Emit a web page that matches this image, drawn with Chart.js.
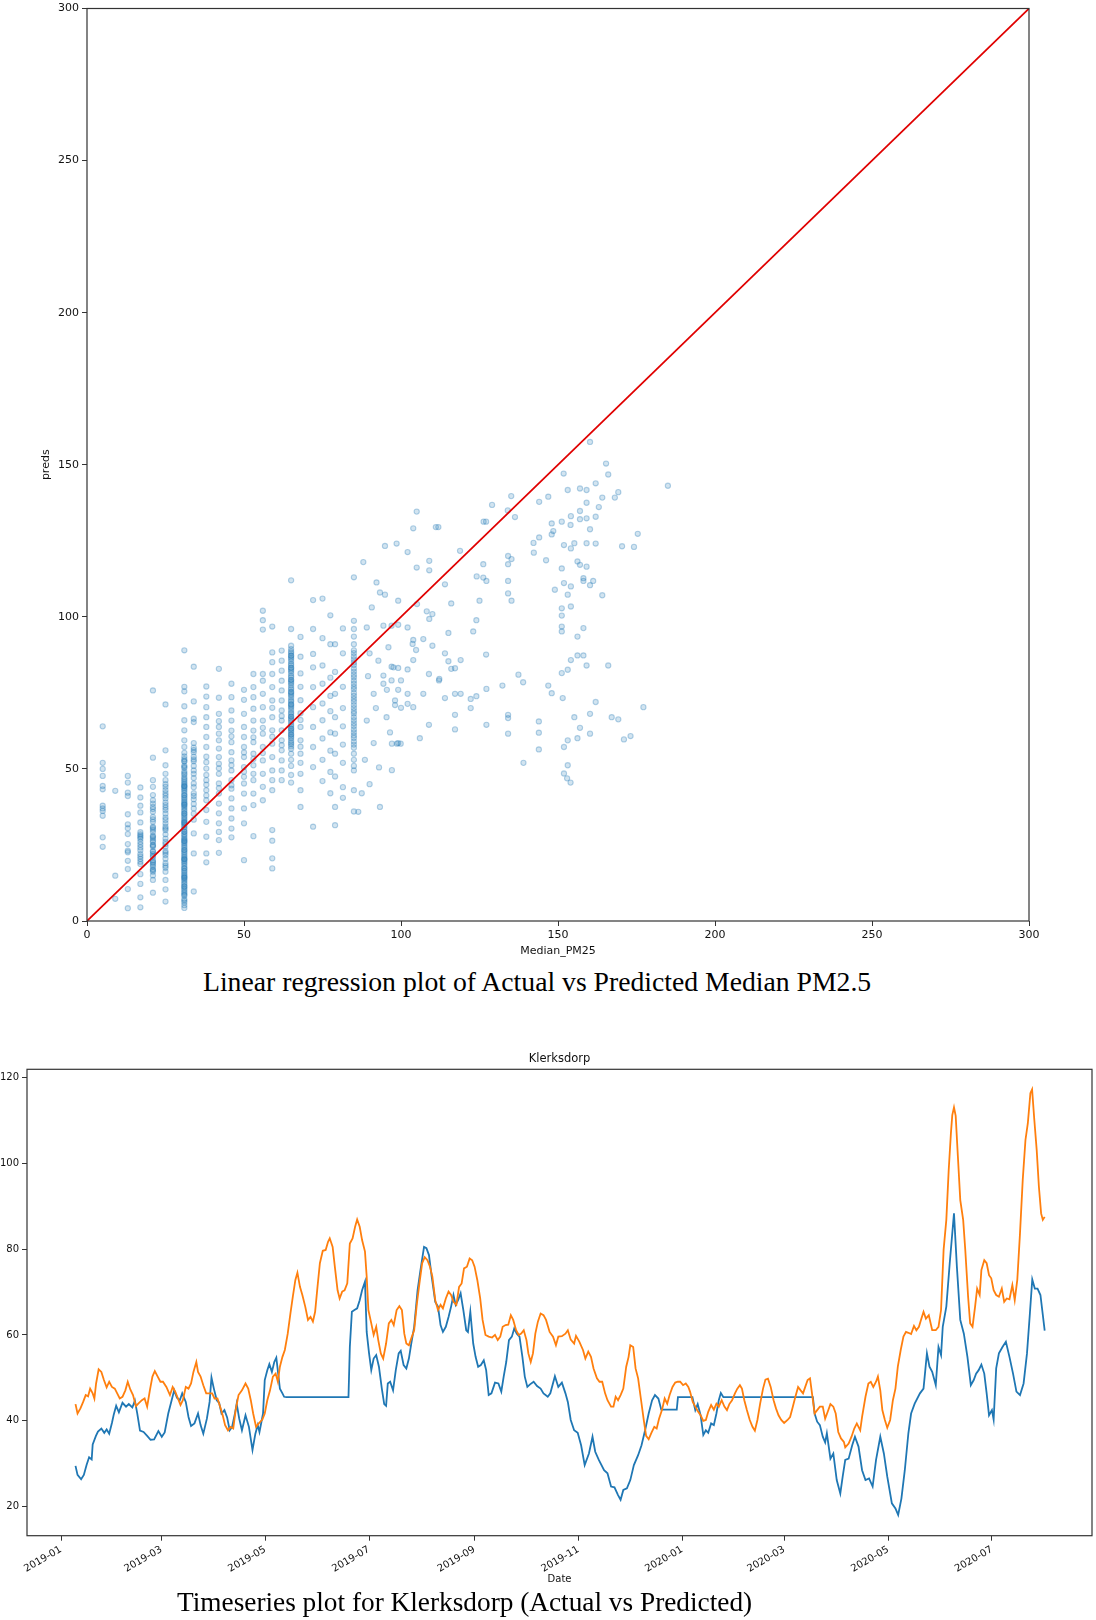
<!DOCTYPE html>
<html><head><meta charset="utf-8">
<script src="https://cdn.jsdelivr.net/npm/chart.js@4.4.1/dist/chart.umd.min.js"></script>
<style>
html,body{margin:0;padding:0;background:#fff;}
body{width:1096px;height:1620px;position:relative;overflow:hidden;}
canvas{position:absolute;left:0;}
.cap{position:absolute;font-family:"Liberation Serif","Times New Roman",serif;color:#000;white-space:nowrap;line-height:1;}
</style></head><body>
<canvas id="scatterChart" width="1096" height="965" style="top:0;width:1096px;height:965px"></canvas>
<div class="cap" style="left:203px;top:968px;font-size:27.7px">Linear regression plot of Actual vs Predicted Median PM2.5</div>
<canvas id="tsChart" width="1096" height="620" style="top:1000px;width:1096px;height:620px"></canvas>
<div class="cap" style="left:177px;top:1589px;font-size:27.3px">Timeseries plot for Klerksdorp (Actual vs Predicted)</div>
<script>
// ---------- Top chart data: Median_PM25 (actual) vs preds ----------
const scatterTicks = [0, 50, 100, 150, 200, 250, 300];
const actualColumns = [5, 9, 13, 17, 21, 25, 31, 34, 38, 42, 46, 50, 53, 56, 59, 62, 65, 68, 72, 75, 77.5, 79, 81.5, 85];
const predsByColumn = [
  [64, 52, 50, 47.7, 44.4, 43.3, 37.9, 37, 36.2, 34.6, 27.5, 24.4],
  [42.8, 14.9, 7.3],
  [47.7, 45.5, 42.2, 41.1, 35.1, 31.8, 28.6, 25.3, 23.1, 22.6, 17.1, 10.5, 4.2, 30.5, 19.8],
  [43.9, 40.6, 37.9, 35.7, 32.4, 28.5, 28, 27.5, 27, 26, 24.2, 22, 20.4, 18.7, 15.4, 12.2, 7.8, 4.5, 29.2, 25.1, 23.3, 21.2, 19.5],
  [75.8, 53.7, 46.3, 44.1, 41.4, 39.7, 37.5, 35.9, 34.2, 32.6, 31, 30, 29.3, 28, 27.7, 26.5, 26, 25, 24.4, 23, 22.8, 21.5, 21.1, 20, 19.5, 18.5, 17.9, 17, 16.2, 15, 13.5, 9.3,
   38.6, 36.8, 33.4, 30.6, 27.2, 24.8, 22.1, 19.1, 16.7],
  [71.2, 56.1, 51.2, 48.4, 46.3, 45, 43, 42, 40.3, 39, 38.1, 36.5, 35.3, 34, 32.1, 31, 29.9, 28.5, 27.1, 26, 24.4, 23, 21.7, 20.5, 19, 17.5, 16.2, 13.5, 10.4, 6.4,
   44.1, 41.2, 37.3, 33.2, 30.4, 25.3, 22.4, 18.2],
  [89, 77, 75.5, 70.6, 66, 62.7, 59.4, 57.2, 55.3, 54.1, 53.2, 52.4, 51.1, 50.3, 49.2, 48.1, 47.3, 46.2, 45.1, 44.3, 43.2, 42.1, 41.3, 40.2, 39.1, 38.3, 37.2, 36.1, 35.3, 34.2, 33.1, 32.3, 31.2, 30.1, 29.3, 28.2, 27.1, 26.3, 25.2, 24.1, 23.3, 22.2, 21.1, 20.3, 19.2, 18.1, 17.3, 16.2, 15.1, 14.3, 13.2, 12.1, 11.3, 10.2, 9.1, 8.3, 7.2, 6.1, 5.2, 4.3,
   52.6, 50.7, 48.6, 46.7, 44.6, 42.7, 40.6, 38.7, 36.6, 34.7, 32.6, 30.7, 28.6, 26.7, 24.6, 22.7, 20.6, 18.7, 16.6, 14.7, 12.6, 10.7, 8.6, 6.7,
   44.2, 41.4, 38.2, 35.4, 32.2, 29.4, 26.2, 23.4, 20.2, 17.4, 14.2, 11.4,
   45.6, 43.7, 39.6, 37.7, 33.6, 31.7, 27.6, 25.7, 21.6, 19.7, 15.6, 13.7, 9.6],
  [83.6, 72.2, 66.5, 65.4, 58.5, 57, 55.5, 54, 52.5, 51, 49.5, 48.4, 44, 42, 40, 38.5, 37, 35.3, 28.8, 22.2, 9.7, 56.2, 53.1, 47, 45.2, 41.1, 33.3],
  [77.1, 73.8, 70.3, 67, 63.8, 60.5, 57.2, 54, 50.1, 48, 46.3, 43, 39.7, 36.5, 32.6, 27.7, 22.2, 19.3, 52.2, 44.8, 41.3],
  [82.9, 73.4, 68.1, 65.7, 63.8, 59.4, 56.7, 53.9, 51.7, 48.4, 45.2, 41.9, 38.6, 35.4, 32.1, 29.3, 26.6, 22.4, 61.6, 50.2, 43.7],
  [78, 73.6, 69.2, 65.9, 62.6, 58.8, 55.5, 52.8, 49.5, 46.3, 43.5, 40.3, 37, 33.7, 30.4, 27.5, 60.7, 51.2, 44.6],
  [76, 72.7, 68.1, 63.8, 60.5, 57.2, 53.9, 50.6, 47.4, 45.2, 41.9, 37, 32.1, 20, 55.4, 49.1],
  [81.2, 76.9, 73.6, 69.8, 65.9, 62.6, 58.8, 55, 51.2, 48.4, 46.3, 41.9, 38.1, 27.9, 60.4, 53.3],
  [102, 98.9, 95.8, 81.2, 79, 74.7, 70.3, 65.9, 61.6, 57.2, 52.8, 48.4, 44.1, 39.7, 63.5, 55.2],
  [96.8, 88.3, 85.1, 81.2, 76.9, 72.5, 67, 62.7, 58.3, 53.9, 49.5, 46.3, 43, 29.9, 26.4, 20.6, 17.3, 70.1, 60.6],
  [88.9, 85.6, 82.3, 79, 75.8, 72.5, 69.2, 65.9, 62.7, 59.4, 56.1, 52.8, 49.5, 46.3, 67.4, 57.8],
  [112, 96, 90.5, 89.4, 88.6, 87.3, 86.6, 85.4, 84.6, 83.3, 82.6, 81.4, 80.6, 79.3, 78.6, 77.4, 76.6, 75.3, 74.6, 73.4, 72.6, 71.3, 70.6, 69.4, 68.6, 67.3, 66.6, 65.4, 64.6, 63.3, 62.6, 61.4, 60.6, 59.3, 58.6, 57.4, 56.6, 55, 53, 51, 48, 45.5,
   88.1, 86.1, 84.1, 82.1, 80.1, 78.1, 76.1, 74.1, 72.1, 70.1, 68.1, 66.1, 64.1, 62.1, 60.1, 58.1,
   87.2, 83.2, 79.2, 75.2, 71.2, 67.2, 63.2, 61.2],
  [93.4, 86.9, 81.4, 77, 72.6, 68.3, 63.8, 59.4, 55, 52, 48.4, 43, 37.5, 66.1, 57.3],
  [105.5, 96, 87.8, 83.4, 76.9, 70.3, 63.8, 57.2, 50.6, 31],
  [106, 93, 84, 78, 71.5, 66, 60, 53, 46],
  [100.5, 91, 80, 74, 69, 62, 56, 49, 42],
  [91, 81.9, 74.7, 67, 61.6, 55, 47.5, 37.5, 31.5],
  [96.2, 88, 77, 70, 64, 58, 52, 44, 40.5],
  [113, 98.7, 96, 93.5, 91, 89, 87, 85, 83, 81, 79, 77, 75, 73, 71, 69, 67, 65, 63, 61, 59, 57, 55, 53, 51, 49.5, 43, 36,
   86, 82, 78, 74, 70, 66, 62, 58, 88.1, 84.2, 80.1, 76.2, 72.1, 68.2, 64.1, 60.2]
];
const actualScatter = [92.2,93.3,90.7,94.4,89.1,92.8,97.6,94.4,89.5,91.3,98.1,95.4,89.1,98.7,91.3,88.5,93,86.4,93.3,88,96,90,95.5,92,96.5,90,87.5,
 160.2,165.3,166,185,151.8,153.1,157,159.1,162,169.2,168.1,164.1,163,159.1,157,154.1,157,159.1,162,151.2,148,154,148.5,148,160.2,175.4,170.4,174.2,162,159.1,155.2,154.1,151.9,142.2,144,146.9,144,135.1,136.3,134,129,127.1,126.3,118.8,114,105,103.9,111.9,111.1,94.9,98.6,102.1,109,109,105,99.1,105.1,108.2,109,110,116,125,124,123,134.1,134.1,135.2,126.2,124.1,126.2,127.2,134.1,134.1,135.2,142.3,146.2,149,151.9,154.1,153.1,154.1,151.2,156.2,157,159.1,158.1,158.1,160.2,161.2,164.1,151.2,151.2,151.2,151.2,158.1,156.2,154.1,153.1,151.2,156.2,158.1,159.1,166,162,160.2,155.2,157,160.2,156.2,153.1,151.9,153.1,151.9,152.9,154,167.1,169.2,171,173.1,177.2,143.9,143.9,143.9,139,146.9,148,151.5,134.1,134.1,134.1,138.9,137.4,132.3,127.2,127.2,124,122.2,122.2,117.2,117.2,119,117.2,119,117.2,114,112.1,108.9,108.9,106,99.9,99.1,97.1,97.1,103.9,102.1,100,98.1,107.1,102.1,99.1,97,94.4,100,103.9,103.9,103.7,104.8,107.1,110,115.1,114,115.1,116,112.2,102.1,99.1,97,94.9,127.1,97,99.1,102.1];
const predsScatter = [111.3,108,103.1,97.1,96.5,85.6,83.4,80.7,80.5,74.7,72.5,67,65.9,58.3,58.5,53,50.5,35.9,37.5,118,90,88,76,70,62,45,42,
 157.5,150.4,146.8,143.1,147.1,141.7,142.2,141.7,143.9,141,139.2,139.2,136.1,137.5,134.8,133.1,132.1,132.4,132.9,131.3,130.7,130.2,128.2,127.1,128.8,127.3,123.2,123,124.1,124.2,124.2,122.5,123.6,124.3,126.1,139.5,137.8,139.7,132.8,135,136.8,131.3,131.3,121.7,110.7,134.6,129.1,129.5,129.5,123.3,124.1,121.3,118.4,115.3,116.2,105.3,104.2,101.8,99.3,100.9,104.4,105.3,98.9,95.2,120,117.3,119,117.3,113.3,112.9,111.8,111.8,107.7,105.3,121.1,118.6,108.9,111.1,110,107.3,103.4,115.9,118.2,117.1,116.5,112.7,111.8,110.4,111.8,107.1,102.8,100.4,96.8,95.2,96.3,93.5,85.8,82.6,81.5,87.3,87.3,84,84,72,68.1,67,63.5,61.6,60.1,59.4,57.2,51.2,48.5,46.9,45.5,67,66.3,59.7,60.8,70.3,65.6,61.9,56.4,52,77.4,74.9,73.3,67.8,66.7,61.6,78.5,81,77.4,76.3,64.5,73.9,73,70,67.8,63,85.8,83.1,74.7,74.7,73.3,79.1,81.2,64.5,60.1,58.3,58.5,58.3,49.6,70.3,71.4,70.1,71,74.7,74.7,76,79.1,78,79.1,85.8,92.4,91.1,89.1,92.7,90.5,94.7,88,85.4,82.9,79.6,96.5,97.4,97.1,107.3,87.6,83.6,83.2,82.7];
const identityLine = [0, 300];

// ---------- Bottom chart data: Klerksdorp timeseries (days since 2019-01-01) ----------
const monthTickDays = [0, 59, 120, 181, 243, 304, 365, 425, 486, 547];
const monthTickLabels = ['2019-01','2019-03','2019-05','2019-07','2019-09','2019-11','2020-01','2020-03','2020-05','2020-07'];
const tsYTicks = [20, 40, 60, 80, 100, 120];
const actualDays = [8.5,9.7,11.8,13.4,15,16.5,18,18.6,20.5,21.7,23.7,25.4,26.8,28.3,29.9,31,32.4,34,36.1,38.2,39.8,41.9,43.4,44.8,46.4,48.5,50.6,52.6,54.7,57.2,59.2,60.9,63,65,66.5,68.1,69.8,71.2,73.3,74.9,76.4,78.4,80.5,82,83.6,85.7,87.3,88.4,89.8,91.5,92.9,94.3,96,97.6,99.1,100.5,102.2,103.2,104.7,106.3,108.4,110.4,112.5,114.2,115.6,116.6,118.7,119.7,121.2,122.4,123.9,125.3,126.5,127.6,128.6,130.1,131.1,132.5,168.9,169.7,170.9,172.4,174,175.5,176.9,178.6,179.6,181,182.3,183.7,185.2,186.8,188.5,189.9,191,192,193.4,195.1,196.7,198.4,199.6,201.3,202.9,204.4,205.8,207.5,209.5,211.2,213.3,214.7,216.2,217.8,219.9,221.5,223,224.4,226.1,227.7,229.2,230.6,231.9,233.3,234.8,236.4,238.1,239.1,240.5,242.2,243.6,245.1,246.7,248.4,249.8,251.3,252.9,255,257,258.7,260.1,261.6,263.2,264.9,266.3,267.8,269.4,271.1,272.5,274,275.6,277.7,279.7,281.8,283.5,286,287.5,290.2,292.2,294.3,296.4,297.8,299.5,301.5,303.6,305.6,307.7,310.2,312.3,313.9,316,319.1,321.1,323.2,325.2,327.3,328.8,330.4,332.5,334.5,336.6,339.1,341.1,343.2,345.3,347.3,349,351,352.7,361.8,362.5,371,372.7,374.1,375.8,377.4,378.9,380.3,382,383.6,385.1,386.5,387.7,389.2,441.8,442.8,444.3,445.9,447.6,449,450,452.1,453.8,455.8,457.9,459.3,460.8,462.8,464.9,466.5,468.6,470.7,472.7,474.8,476.9,478.9,481.4,483.5,485.5,488.2,490.3,491.9,493.8,495.8,497.9,499.5,501.6,504.7,506.8,508.8,510.3,511.9,514,515.6,517.1,518.1,520.2,522.2,524.7,526.4,528.4,530.5,532.6,534.6,536.3,537.7,539.2,540.8,542.5,543.9,545.3,547,548,549.5,551.1,553.2,555.2,557.3,559.4,561.4,563.5,565.6,567.6,569.3,570.7,572.2,573.8,575.5,578];
const actualValues = [29.5,27.4,26.4,27.4,29.7,31.5,31,34.5,36.5,37.5,38.2,37.2,38,37,39.5,41.5,43.5,42,44.2,43.3,43.9,43.1,44.7,41.7,37.7,37.4,36.5,35.6,35.7,37.6,36.3,37.3,41.7,44.8,47.1,45.4,44.8,46.4,44.4,40.9,38.8,39.4,41.7,39,37,40.5,44.4,50.1,47.5,44.8,44.2,41.7,42.5,40.8,37.8,38.6,41.7,44,40.5,37.8,41.3,38.6,33.2,37,39,37.4,41.7,49.5,51.8,53.2,51.4,53.7,54.7,51,47.5,46.4,45.6,45.5,45.5,57.2,65.4,65.8,66.2,68.1,70.4,72.4,60.7,55.7,51.8,54.5,55.3,52.6,47.5,43.9,43.5,48.7,49.1,47.1,51.8,55.7,56.3,53,52.2,54.5,58,61.9,70.4,75.1,80.5,80.2,78.6,73.6,67.7,66.6,62.3,60.7,61.9,64.2,66.6,69.3,67,68.1,69.7,65.8,61.1,60.7,65.4,58,54.9,52.6,53,54.1,51.8,46,46.4,48.9,48.7,46.8,50.3,53.7,58.8,59.6,61.5,60.3,59.6,54.9,50.3,47.9,48.5,49.1,48.1,47.5,46.4,45.6,46.4,50.4,47.9,48.9,46.4,44.4,40.2,37.8,37.2,34.3,29.7,32.4,36.3,32.8,30.9,28.5,27.8,24.7,24.5,22.7,21.6,23.9,24.3,26.2,29.7,32,34.3,37.8,41.7,44.8,46,45.2,42.6,42.6,45.5,45.5,42.5,43.9,41.3,36.7,37.8,37.2,39.4,39,41.7,44.8,46.5,45.5,45.5,41.7,39.8,39,36.3,35,37.1,31.2,32.4,26.2,23.1,27,30.9,31.2,34.3,36.3,34,28.5,26.2,26.6,24.7,30.9,36.3,32.4,27,20.8,19.6,18.1,21.9,28.5,37.1,41.7,44,46.4,47.5,55.7,52.6,51.4,48.3,57.2,55.3,61.9,66.6,76.7,88.3,75.9,63.5,60.3,54.9,48.3,49.5,51,51.8,53.1,51,46.4,41.3,42.5,40.3,52.2,55.7,57.2,58.4,54.9,51,46.8,46,48.7,55.7,65,72.9,70.8,70.8,69.3,61];
const predDays = [8.5,9.7,11.4,13,14.5,15.9,17.1,18.6,19.6,20.6,22.1,23.7,25.2,26.8,28.3,29.9,31.6,33,34.5,36.1,37.8,39.2,40.7,42.3,44,45.4,47.5,49.1,50.6,52.2,53.7,55.1,56.8,58.4,59.9,61.9,64,65.6,67.1,68.7,70.2,71.6,73.3,74.9,76.4,77.8,79.5,80.5,82,83.6,85.3,86.7,88.8,90.2,91.9,93.5,95,96.4,98.1,99.7,101.2,102.6,104.3,106.3,108.4,110,111.5,112.9,114.6,116.2,118.3,119.7,121.2,122.8,124.5,126.1,127.4,128.6,130.1,131.5,133.2,134.8,136.2,137.7,138.9,140.4,141.8,143.5,145.1,146.6,148,149.3,150.7,152.1,153.8,155.5,156.9,157.9,159.6,161,162.5,163.7,165.2,166.6,168.2,169.7,171.3,172.8,174,175.5,176.9,178.6,179.6,180.6,182.3,183.7,185.2,186.4,187.9,189.3,191,192.6,194.1,195.5,197.2,198.8,200.3,201.7,202.9,204.4,205.8,207.5,209.1,210.6,212.2,213.7,215.3,216.8,218.2,219.9,221.5,223,224.4,226.1,227.7,229.2,230.6,232.3,233.9,235.4,236.8,238.5,240.1,241.6,243,244.6,246.3,247.7,249.4,251.3,253.3,255,256.6,258.1,259.5,261.2,262.8,264.3,265.7,267.4,269,270.4,271.9,273.5,274.6,276,277.3,278.7,280.2,281.8,283.5,285,287.1,289.1,290.8,292.2,294.3,296.4,297.8,299.5,301.5,302.6,304.6,306.7,308.1,309.8,311.4,312.9,314.9,316.4,318,319.7,321.1,323.2,324.6,325.9,327.3,328.8,330.4,332.1,333.5,334.5,336.2,337.6,339.1,340.7,342.4,343.8,345.3,346.9,348.6,350,351.4,353.1,354.7,356.2,357.6,359.3,360.9,362.4,363.8,365.5,367.1,368.6,369.6,371.2,372.7,374.1,375.8,377.4,378.9,380.3,382,383.6,385.1,386.5,388.2,389.8,391.3,392.7,394.3,396,397.4,398.9,400.1,401.5,403,404.7,406.3,407.7,409.2,410.8,412.5,413.9,415.4,417,418.7,420.1,421.6,423.2,424.9,426.9,428.4,430,431.5,433.1,434.6,436,437.3,438.7,440.1,441.4,442.8,444.3,445.9,447.6,449,450.5,452.1,453.8,455.2,456.7,458.3,460,460.8,462.8,464.5,466.1,467.6,469.6,470.7,472.7,474.4,475.8,477.3,478.9,480,481.4,482.6,484.1,485.5,487.2,488.8,490.3,491.7,493.4,495,496.5,497.9,499.5,501.2,502.6,504.1,505.3,506.8,508.2,509.9,511.9,514,515.6,517.1,518.6,520.2,521.6,522.9,523.7,524.7,525.7,527,528.4,530.1,531.3,533,534.2,535.6,537.1,538.3,539.8,540.8,542.5,543.9,545.3,546.6,548,549.5,551.1,552.8,554.2,555.7,557.3,559,560.4,561.9,563.5,565.1,566.7,568.1,569.6,570.6,571.9,573.3,574.6,575.9,576.9,578];
const predValues = [43.9,41.7,42.9,44.4,46,45.7,47.5,46.4,45.2,48.7,52,51.4,49.5,47.8,49.1,47.9,47.5,46.4,45.2,45.6,47.1,49.1,47.3,46,43.4,44,44.8,45.2,43.3,47.1,50.3,51.6,50.3,49.1,49.1,47.9,46,47.9,46.8,45.2,43.7,44.8,47.9,47.5,48.7,51.4,53.7,51.4,50.3,48.3,46.4,46.4,46.4,45.2,45.2,43.3,41.3,39,37.8,38.6,38.2,42.5,46,47.1,48.7,47.5,44.8,41.7,38.6,39.4,40.3,41.7,44.8,47.1,50.3,51,49.1,52.6,54.9,56.5,60.3,65,68.9,72.8,74.5,71.2,69.3,66.6,63.5,64.2,63.1,65.4,71.2,76.7,79.6,79.8,81.7,82.5,80.5,75.5,70.4,68.5,70.1,70.4,72,81.3,82.5,85.2,86.9,85.2,82.1,79.4,73.6,65.8,62.7,60,61.9,58.8,55.7,54.5,58,62.7,63.5,62.3,65.8,66.7,65.8,60.3,58,57.6,59.2,61.1,67.3,72,76.7,78.1,77.4,75.9,73.6,68.1,65.8,67,66.2,68.5,70.1,69.3,67.7,67,71.2,72,75.5,75.9,77.8,77.4,75.9,72.8,68.5,63.5,60,59.6,59.4,60,58.8,59.6,61.9,62.3,62.4,64.6,63.5,61.1,60,60.3,61.1,58.8,55.7,53.7,55.7,60.3,63.1,65,64.6,63.5,60.7,59.6,57.6,59.6,59.7,60.3,61.1,58.9,58,59.8,58.4,56.5,54.5,56.1,54.9,52.2,49.9,49.1,49.1,46.4,44.8,43.3,43.3,45.6,44.8,46,47.5,52.6,54.9,57.6,57.2,52.2,49.9,45.2,40.2,36.5,35.7,37.2,38.6,38.2,40.5,42.5,45.2,44,46,47.9,48.9,49.1,49.1,48.3,48.7,47.9,46.8,44.4,43.3,42.3,41.3,40,40.2,42.1,43.7,42.6,44,43.3,44.8,43.3,42.5,43.9,44.8,46.4,47.5,48.3,47.5,44.8,42.5,40.2,38.6,37.7,40.2,44,47.5,49.6,49.8,47.9,44.8,42.9,41.3,40.2,39.5,40.2,40.9,43.3,45.6,47.9,47.1,46.4,47.9,49.5,49.9,46,41.7,42.5,43.3,43.3,40.5,42.1,43.9,43.3,41.7,37.4,35.9,35.1,33.8,34.7,36.3,38.2,39.4,37.8,40.9,45.6,48.7,49.1,47.9,49.1,50.3,47.1,42.5,40.2,38.4,40.2,44.8,47.5,52.6,56.5,59.6,60.7,60.5,60.2,62.1,61.1,61.9,63.5,65.4,63.8,64.6,61.1,61.1,61.9,65.8,79.8,86.8,98.4,107,111.2,113,111,101.5,91.4,86.8,80,68.9,62.7,61.9,66.6,70.8,69.3,75.1,77.4,76.7,73.9,73.2,70.4,69.3,68.9,70.8,67.7,68.5,68.3,71.6,68.1,72.8,83.7,96.1,105.4,109.3,116.3,117.2,110.1,103.1,94.5,88.3,86.8,87.5];

// ---------- shared helpers ----------
const framePlugin = {
  id: 'frame',
  afterDraw(chart) {
    const {ctx, chartArea: a} = chart;
    ctx.save();
    ctx.strokeStyle = '#333';
    ctx.lineWidth = 1.2;
    ctx.strokeRect(a.left, a.top, a.right - a.left, a.bottom - a.top);
    ctx.restore();
  }
};
const TXT = '#111';

// ---------- Top chart ----------
const scatterPoints = [];
actualColumns.forEach((x, i) => predsByColumn[i].forEach(y => scatterPoints.push({x, y})));
actualScatter.forEach((x, i) => scatterPoints.push({x, y: predsScatter[i]}));

new Chart(document.getElementById('scatterChart'), {
  type: 'scatter',
  data: {
    datasets: [
      {type: 'line', data: identityLine.map(v => ({x: v, y: v})), borderColor: '#e00000', borderWidth: 1.7, pointRadius: 0, fill: false, order: 0},
      {data: scatterPoints, backgroundColor: 'rgba(31,119,180,0.2)', borderColor: 'rgba(31,119,180,0.32)', borderWidth: 1.1, pointRadius: 2.6, order: 1}
    ]
  },
  options: {
    responsive: false, animation: false, events: [],
    layout: {padding: {left: 0, top: 6, right: 67, bottom: 0}},
    plugins: {legend: {display: false}, tooltip: {enabled: false}},
    scales: {
      x: {
        type: 'linear', min: 0, max: 300,
        afterBuildTicks(s) { s.ticks = scatterTicks.map(v => ({value: v})); },
        afterFit(s) { s.height = 44; },
        grid: {drawOnChartArea: false, drawTicks: true, tickLength: 5, color: '#333'},
        border: {display: false},
        ticks: {font: {family: 'DejaVu Sans', size: 11}, color: TXT, padding: 3, maxRotation: 0},
        title: {display: true, text: 'Median_PM25', color: TXT, font: {family: 'DejaVu Sans', size: 11}, padding: {top: 0, bottom: 7}}
      },
      y: {
        type: 'linear', min: 0, max: 300,
        afterBuildTicks(s) { s.ticks = scatterTicks.map(v => ({value: v})); },
        afterFit(s) { s.width = 87; },
        grid: {drawOnChartArea: false, drawTicks: true, tickLength: 5, color: '#333'},
        border: {display: false},
        ticks: {font: {family: 'DejaVu Sans', size: 11, lineHeight: 1}, color: TXT, padding: 3},
        title: {display: true, text: 'preds', color: TXT, font: {family: 'DejaVu Sans', size: 11}, padding: {top: 40, bottom: 0}}
      }
    }
  },
  plugins: [framePlugin]
});

// ---------- Bottom chart ----------
new Chart(document.getElementById('tsChart'), {
  type: 'line',
  data: {
    datasets: [
      {label: 'Predicted', data: predDays.map((d, i) => ({x: d, y: predValues[i]})), borderColor: '#ff7f0e', borderWidth: 1.8, pointRadius: 0, fill: false, tension: 0, order: 0},
      {label: 'Actual', data: actualDays.map((d, i) => ({x: d, y: actualValues[i]})), borderColor: '#1f77b4', borderWidth: 1.8, pointRadius: 0, fill: false, tension: 0, order: 1}
    ]
  },
  options: {
    responsive: false, animation: false, events: [],
    layout: {padding: {left: 0, top: 0, right: 4, bottom: 0}},
    plugins: {
      legend: {display: false}, tooltip: {enabled: false},
      title: {display: true, text: 'Klerksdorp', fullSize: false, color: TXT, font: {family: 'DejaVu Sans', size: 11.5, weight: 'normal'}, padding: {top: 52.4, bottom: 3.1}}
    },
    scales: {
      x: {
        type: 'linear', min: -20, max: 605.8,
        afterBuildTicks(s) { s.ticks = monthTickDays.map(v => ({value: v})); },
        afterFit(s) { s.height = 84.3; },
        grid: {drawOnChartArea: false, drawTicks: true, tickLength: 5, color: '#333'},
        border: {display: false},
        ticks: {font: {family: 'DejaVu Sans', size: 10}, color: TXT, padding: 3, minRotation: 30, maxRotation: 30, autoSkip: false,
                callback: v => monthTickLabels[monthTickDays.indexOf(v)]},
        title: {display: true, text: 'Date', color: TXT, font: {family: 'DejaVu Sans', size: 10}, padding: {top: 0, bottom: 34.7}}
      },
      y: {
        type: 'linear', min: 13.25, max: 121.86,
        afterBuildTicks(s) { s.ticks = tsYTicks.map(v => ({value: v})); },
        afterFit(s) { s.width = 27; },
        grid: {drawOnChartArea: false, drawTicks: true, tickLength: 5, color: '#333'},
        border: {display: false},
        ticks: {font: {family: 'DejaVu Sans', size: 10, lineHeight: 1}, color: TXT, padding: 3}
      }
    }
  },
  plugins: [framePlugin]
});
</script>
</body></html>
